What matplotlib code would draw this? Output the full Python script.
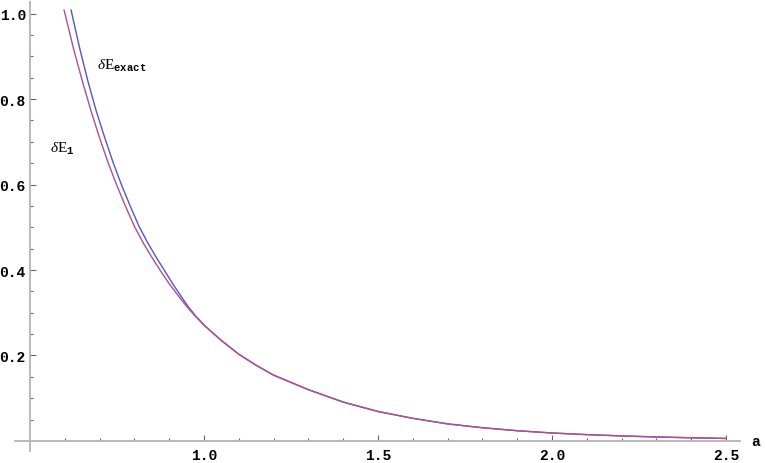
import matplotlib.pyplot as plt
from matplotlib.ticker import FixedLocator

# valeurs
a_e1 = [0.598, 0.625, 0.65, 0.675, 0.70, 0.725, 0.75, 0.775, 0.80, 0.825,
        0.85, 0.875, 0.90, 0.925, 0.95, 0.975, 1.0, 1.05, 1.10, 1.15,
        1.20, 1.30, 1.40, 1.50, 1.60, 1.70, 1.80, 1.90, 2.0, 2.1,
        2.2, 2.3, 2.4, 2.5]
dE1 = [1.008, 0.918, 0.843, 0.773, 0.709, 0.650, 0.597, 0.548, 0.502, 0.464,
       0.430, 0.398, 0.368, 0.341, 0.315, 0.292, 0.271, 0.235, 0.203, 0.177,
       0.154, 0.120, 0.091, 0.069, 0.053, 0.040, 0.031, 0.024, 0.0187, 0.0149,
       0.0118, 0.0094, 0.0075, 0.0059]

a_ex = [0.618, 0.643, 0.666, 0.690, 0.715, 0.7395, 0.764, 0.7888, 0.8135, 0.838,
        0.8625, 0.887, 0.910, 0.932, 0.954, 0.9765, 1.0, 1.05, 1.10, 1.15,
        1.20, 1.30, 1.40, 1.50, 1.60, 1.70, 1.80, 1.90, 2.0, 2.1,
        2.2, 2.3, 2.4, 2.5]
dEex = [1.008, 0.918, 0.843, 0.773, 0.709, 0.650, 0.597, 0.548, 0.502, 0.464,
        0.430, 0.398, 0.368, 0.341, 0.315, 0.292, 0.271, 0.235, 0.203, 0.177,
        0.154, 0.120, 0.091, 0.069, 0.053, 0.040, 0.031, 0.024, 0.0187, 0.0149,
        0.0118, 0.0094, 0.0075, 0.0059]

xticks = [1.0, 1.5, 2.0, 2.5]
xlabels = ['1.0', '1.5', '2.0', '2.5']
yticks = [0.2, 0.4, 0.6, 0.8, 1.0]
ylabels = ['0.2', '0.4', '0.6', '0.8', '1.0']

plt.rcParams['mathtext.fontset'] = 'custom'
plt.rcParams['mathtext.rm'] = 'Liberation Serif'
plt.rcParams['mathtext.it'] = 'Liberation Serif:italic'
plt.rcParams['mathtext.tt'] = 'Liberation Mono:bold'

fig = plt.figure(figsize=(7.65, 4.64), dpi=100)
ax = fig.add_axes([0, 0, 1, 1])
ax.set_xlim(0.4138, 2.612)
ax.set_ylim(-0.0515, 1.034)

# le bleu dessous, le violet par-dessus
ax.plot(a_ex, dEex, color='#5555c8', lw=1.0)
ax.plot(a_e1, dE1, color='#b0508c', lw=1.0)

axis_col = '#b4b4b4'
for s in ['top', 'right']:
    ax.spines[s].set_visible(False)
ax.spines['left'].set_position(('data', 0.5))
ax.spines['bottom'].set_position(('data', 0))
ax.spines['left'].set_bounds(-0.023, 1.027)
ax.spines['bottom'].set_bounds(0.457, 2.54)
for s in ['left', 'bottom']:
    ax.spines[s].set_color(axis_col)
    ax.spines[s].set_linewidth(1.3)

ax.xaxis.set_major_locator(FixedLocator(xticks))
ax.set_xticklabels(xlabels)
ax.xaxis.set_minor_locator(FixedLocator([0.6, 0.7, 0.8, 0.9, 1.1, 1.2, 1.3, 1.4,
                                         1.6, 1.7, 1.8, 1.9, 2.1, 2.2, 2.3, 2.4]))
ax.yaxis.set_major_locator(FixedLocator(yticks))
ax.set_yticklabels(ylabels)
ax.yaxis.set_minor_locator(FixedLocator([0.05, 0.1, 0.15, 0.25, 0.3, 0.35, 0.45, 0.5,
                                         0.55, 0.65, 0.7, 0.75, 0.85, 0.9, 0.95]))

ax.tick_params(which='both', direction='in', color='#666666', width=0.8)
ax.tick_params(which='major', length=4.5)
ax.tick_params(which='minor', length=2.5)
ax.tick_params(axis='x', which='major', pad=5)
ax.tick_params(axis='y', which='major', pad=3)
for lab in ax.get_xticklabels() + ax.get_yticklabels():
    lab.set_fontfamily('Liberation Mono')
    lab.set_fontsize(10.5)
    lab.set_fontweight('bold')

ax.text(2.585, 0.0, 'a', family='Liberation Mono', fontsize=10.5,
        fontweight='bold', ha='center', va='center')
ax.text(0.692, 0.88, r'$\delta\mathrm{E}_{\mathtt{exact}}$', fontsize=11,
        ha='left', va='center')
ax.text(0.558, 0.686, r'$\delta\mathrm{E}_{\mathtt{1}}$', fontsize=11,
        ha='left', va='center')

fig.savefig('out.png', dpi=100)
